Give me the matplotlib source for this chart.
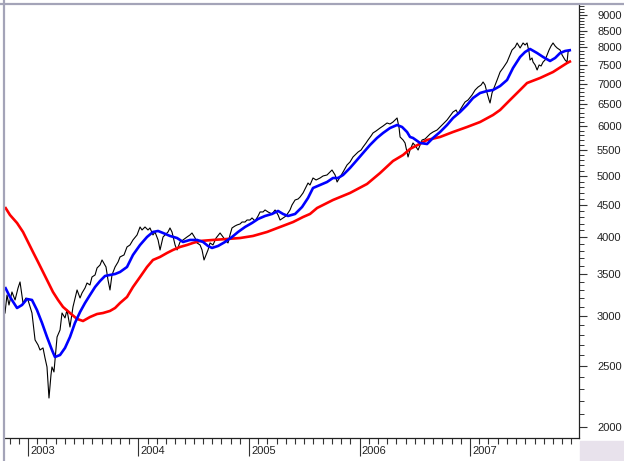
import matplotlib
matplotlib.use("Agg")
import matplotlib.pyplot as plt
from matplotlib.lines import Line2D
from matplotlib.patches import Rectangle
from matplotlib.ticker import FixedLocator, FixedFormatter, NullFormatter

# ---------------- data (time in decimal years) ----------------
price_t = [
    2002.792, 2002.810, 2002.828, 2002.855, 2002.883, 2002.910, 2002.928, 2002.955, 2002.982,
    2003.000, 2003.036, 2003.064, 2003.091, 2003.109, 2003.136, 2003.154, 2003.172, 2003.190,
    2003.208, 2003.217, 2003.235, 2003.263, 2003.290, 2003.308, 2003.335, 2003.353, 2003.380,
    2003.407, 2003.444, 2003.471, 2003.489, 2003.516, 2003.534, 2003.561, 2003.579, 2003.607,
    2003.625, 2003.652, 2003.670, 2003.706, 2003.724, 2003.742, 2003.760, 2003.788, 2003.815,
    2003.833, 2003.869, 2003.896, 2003.923, 2003.950, 2003.987,
    2004.014, 2004.032, 2004.059, 2004.086, 2004.104, 2004.131, 2004.149, 2004.177, 2004.195,
    2004.222, 2004.240, 2004.267, 2004.285, 2004.303, 2004.331, 2004.349, 2004.376, 2004.403,
    2004.439, 2004.466, 2004.484, 2004.512, 2004.530, 2004.557, 2004.575, 2004.593, 2004.611,
    2004.629, 2004.647, 2004.674, 2004.702, 2004.738, 2004.765, 2004.783, 2004.810, 2004.828,
    2004.846, 2004.873, 2004.892, 2004.919, 2004.937, 2004.964, 2004.982,
    2005.009, 2005.027, 2005.055, 2005.082, 2005.100, 2005.127, 2005.145, 2005.172, 2005.208,
    2005.236, 2005.263, 2005.281, 2005.308, 2005.335, 2005.371, 2005.389, 2005.417, 2005.444,
    2005.462, 2005.489, 2005.516, 2005.534, 2005.552, 2005.579, 2005.607, 2005.643, 2005.670,
    2005.706, 2005.733, 2005.751, 2005.779, 2005.797, 2005.824, 2005.851, 2005.887, 2005.914,
    2005.941, 2005.969, 2005.987,
    2006.014, 2006.032, 2006.059, 2006.077, 2006.104, 2006.122, 2006.150, 2006.186, 2006.213,
    2006.249, 2006.276, 2006.303, 2006.340, 2006.358, 2006.367, 2006.394, 2006.412, 2006.439,
    2006.457, 2006.484, 2006.512, 2006.530, 2006.548, 2006.566, 2006.593, 2006.611, 2006.638,
    2006.665, 2006.702, 2006.729, 2006.756, 2006.792, 2006.819, 2006.846, 2006.874, 2006.892,
    2006.910, 2006.937, 2006.955, 2006.982,
    2007.018, 2007.046, 2007.073, 2007.100, 2007.118, 2007.136, 2007.154, 2007.172, 2007.181,
    2007.199, 2007.217, 2007.245, 2007.272, 2007.299, 2007.335, 2007.362, 2007.380, 2007.408,
    2007.426, 2007.453, 2007.480, 2007.498, 2007.516, 2007.534, 2007.543, 2007.561, 2007.570,
    2007.589, 2007.607, 2007.625, 2007.643, 2007.661, 2007.679, 2007.697, 2007.715, 2007.733,
    2007.751, 2007.770, 2007.788, 2007.815, 2007.833, 2007.860, 2007.878, 2007.887, 2007.905,
]
price_v = [
    3032, 3238, 3122, 3274, 3180, 3322, 3396, 3145, 3203,
    3180, 3032, 2748, 2698, 2649, 2669, 2573, 2490, 2223,
    2418, 2490, 2445, 2778, 2850, 3032, 2978, 3066, 2881,
    3100, 3298, 3203, 3262, 3322, 3383, 3359, 3458, 3484,
    3574, 3613, 3680, 3587, 3421, 3298, 3484, 3587, 3653,
    3721, 3748, 3859, 3887, 3959, 4032,
    4151, 4106, 4151, 4106, 4136, 4032, 4076, 3959, 3817,
    4002, 4032, 4076, 4136, 4076, 3887, 3817, 3930, 3959,
    4002, 4032, 4061, 3987, 3916, 3887, 3817, 3680, 3748,
    3817, 3916, 3887, 3987, 4061, 4002, 3959, 3916, 4032,
    4136, 4166, 4182, 4197, 4227, 4227, 4258,
    4258, 4290, 4243, 4321, 4385, 4385, 4417, 4385, 4353,
    4417, 4337, 4258, 4290, 4321, 4417, 4498, 4581, 4598,
    4631, 4700, 4804, 4874, 4839, 4964, 4928, 4964, 5001,
    5019, 5074, 5111, 5019, 4892, 4982, 5074, 5206, 5263,
    5360, 5419, 5458,
    5498, 5559, 5641, 5703, 5787, 5851, 5894, 5958, 6002,
    6068, 6046, 6090, 6180, 5958, 5766, 5703, 5641, 5360,
    5498, 5641, 5559, 5498, 5600, 5703, 5724, 5766, 5829,
    5872, 5915, 5980, 6046, 6135, 6225, 6317, 6363, 6271,
    6363, 6480, 6552, 6600,
    6721, 6845, 6920, 6971, 7048, 6971, 6771, 6600, 6528,
    6771, 6896, 7100, 7310, 7418, 7582, 7779, 7921, 8009,
    8127, 7980, 8127, 8068, 8127, 7864, 7638, 7694, 7582,
    7500, 7364, 7500, 7472, 7582, 7638, 7779, 7921, 8038,
    8127, 8038, 7980, 7921, 7779, 7638, 7582, 7864, 7921,
]

ma_fast_t = [
    2002.792, 2002.837, 2002.901, 2002.946, 2002.991, 2003.036, 2003.081, 2003.127, 2003.172, 2003.217,
    2003.244, 2003.290, 2003.335, 2003.380, 2003.425, 2003.471, 2003.516, 2003.561, 2003.607, 2003.652,
    2003.697, 2003.742, 2003.788, 2003.833, 2003.896, 2003.950, 2004.014, 2004.077, 2004.131, 2004.177,
    2004.222, 2004.285, 2004.349, 2004.403, 2004.466, 2004.530, 2004.584, 2004.629, 2004.665, 2004.720,
    2004.783, 2004.846, 2004.901, 2004.964, 2005.027, 2005.082, 2005.145, 2005.208, 2005.263, 2005.308,
    2005.353, 2005.417, 2005.480, 2005.534, 2005.579, 2005.643, 2005.706, 2005.760, 2005.806, 2005.851,
    2005.914, 2005.977, 2006.032, 2006.095, 2006.158, 2006.213, 2006.276, 2006.340, 2006.385, 2006.430,
    2006.457, 2006.484, 2006.548, 2006.611, 2006.665, 2006.729, 2006.792, 2006.846, 2006.910, 2006.973,
    2007.027, 2007.091, 2007.154, 2007.208, 2007.272, 2007.335, 2007.389, 2007.453, 2007.498, 2007.543,
    2007.607, 2007.661, 2007.724, 2007.770, 2007.815, 2007.860, 2007.914,
]
ma_fast_v = [
    3334, 3215, 3088, 3122, 3191, 3180, 3066, 2924, 2778, 2649,
    2582, 2601, 2669, 2778, 2924, 3043, 3145, 3238, 3334, 3408,
    3471, 3484, 3496, 3522, 3587, 3748, 3887, 4002, 4076, 4091,
    4061, 4017, 3987, 3930, 3959, 3959, 3930, 3873, 3845, 3873,
    3930, 4002, 4076, 4151, 4212, 4274, 4321, 4353, 4401, 4353,
    4321, 4353, 4465, 4615, 4786, 4839, 4892, 4964, 4964, 5019,
    5149, 5301, 5439, 5600, 5745, 5851, 5958, 6024, 5980, 5872,
    5766, 5745, 5641, 5620, 5745, 5872, 6024, 6180, 6317, 6480,
    6648, 6771, 6820, 6845, 6945, 7100, 7418, 7722, 7864, 7951,
    7834, 7722, 7610, 7694, 7834, 7893, 7921,
]

ma_slow_t = [
    2002.792, 2002.837, 2002.901, 2002.955, 2003.000, 2003.045, 2003.091, 2003.136, 2003.181, 2003.226,
    2003.272, 2003.317, 2003.380, 2003.444, 2003.498, 2003.561, 2003.625, 2003.679, 2003.742, 2003.788,
    2003.833, 2003.896, 2003.950, 2004.014, 2004.077, 2004.131, 2004.195, 2004.258, 2004.312, 2004.376,
    2004.439, 2004.493, 2004.557, 2004.674, 2004.801, 2004.919, 2005.036, 2005.163, 2005.281, 2005.399,
    2005.489, 2005.552, 2005.616, 2005.760, 2005.914, 2006.068, 2006.186, 2006.303, 2006.394, 2006.457,
    2006.611, 2006.729, 2006.846, 2006.973, 2007.091, 2007.208, 2007.272, 2007.362, 2007.453, 2007.516,
    2007.634, 2007.751, 2007.878, 2007.914,
]
ma_slow_v = [
    4465, 4337, 4212, 4076, 3930, 3789, 3653, 3522, 3396, 3274,
    3180, 3100, 3032, 2967, 2945, 2988, 3021, 3032, 3055, 3088,
    3145, 3215, 3334, 3458, 3587, 3680, 3721, 3775, 3817, 3859,
    3887, 3916, 3944, 3959, 3973, 3987, 4017, 4076, 4151, 4227,
    4305, 4353, 4449, 4581, 4700, 4857, 5055, 5282, 5399, 5519,
    5703, 5766, 5872, 5980, 6090, 6248, 6363, 6600, 6845, 7022,
    7152, 7310, 7554, 7610,
]

years = [2003, 2004, 2005, 2006, 2007]
year_labels = ["2003", "2004", "2005", "2006", "2007"]
y_major = [2000, 2500, 3000, 3500, 4000, 4500, 5000, 5500, 6000, 6500, 7000, 7500, 8000, 8500, 9000]
y_labels = [str(v) for v in y_major]

# ---------------- layout ----------------
plt.rcParams["font.family"] = ["Liberation Sans", "DejaVu Sans"]
W, H = 624, 461
L, R, T, B = 5, 579, 5, 438
fig = plt.figure(figsize=(W / 100, H / 100), dpi=100, facecolor="white")
ax = fig.add_axes([L / W, 1 - B / H, (R - L) / W, (B - T) / H])
ax.set_facecolor("white")

ax.plot(price_t, price_v, color="black", lw=0.8, zorder=2)
ax.plot(ma_slow_t, ma_slow_v, color="#ff0000", lw=1.9, zorder=3, solid_capstyle="butt")
ax.plot(ma_fast_t, ma_fast_v, color="#0000ff", lw=1.9, zorder=4, solid_capstyle="butt")

ax.set_yscale("log")
ax.set_ylim(1921, 9336)
ax.set_xlim(2002.792, 2007.986)

# y axis on right
ax.yaxis.tick_right()
ax.yaxis.set_major_locator(FixedLocator(y_major))
ax.yaxis.set_major_formatter(FixedFormatter(y_labels))
minor_y = [v for v in range(2000, 9400, 100) if v not in y_major]
ax.yaxis.set_minor_locator(FixedLocator(minor_y))
ax.yaxis.set_minor_formatter(NullFormatter())
ax.tick_params(axis="y", which="major", length=6, width=0.8, pad=7,
               labelsize=8, labelcolor="#222222", color="#333333")
ax.tick_params(axis="y", which="minor", length=3.5, width=0.7, color="#333333")

# x axis: years (long ticks) and months (short ticks)
ax.xaxis.set_major_locator(FixedLocator(years))
ax.xaxis.set_major_formatter(NullFormatter())
months = [y0 + m / 12 for y0 in range(2002, 2008) for m in range(12)]
ax.xaxis.set_minor_locator(FixedLocator(months))
ax.xaxis.set_minor_formatter(NullFormatter())
ax.tick_params(axis="x", which="major", length=13, width=0.8, color="#333333")
ax.tick_params(axis="x", which="minor", length=4.5, width=0.8, color="#333333")
for yr, lab in zip(years, year_labels):
    ax.text(yr + 0.018, -13 / (B - T), lab, transform=ax.get_xaxis_transform(),
            ha="left", va="center", fontsize=8, color="#222222")

for s in ["top", "left"]:
    ax.spines[s].set_visible(False)
for s in ["right", "bottom"]:
    ax.spines[s].set_color("#222222")
    ax.spines[s].set_linewidth(0.9)

# window frame and corner patch
fig.add_artist(Rectangle((580 / W, 0), (W - 580) / W, (H - 441) / H,
                         transform=fig.transFigure, color="#e8e2ec", zorder=0))
fig.add_artist(Line2D([3.5 / W, 3.5 / W], [0, 1], transform=fig.transFigure,
                      color="#a4a4b8", lw=1.6))
fig.add_artist(Line2D([0, 1], [1 - 4.5 / H, 1 - 4.5 / H], transform=fig.transFigure,
                      color="#a4a4b8", lw=1.6))

fig.savefig("out.png", dpi=100, facecolor="white")
